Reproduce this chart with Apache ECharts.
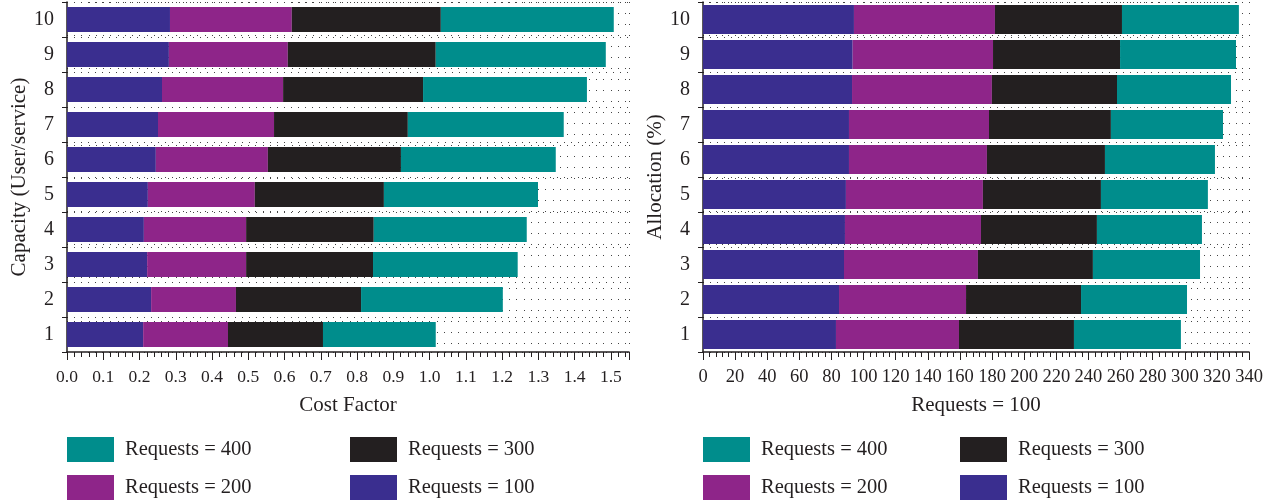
<!DOCTYPE html>
<html>
<head>
<meta charset="utf-8">
<script src="https://cdn.jsdelivr.net/npm/echarts@6/dist/echarts.min.js"></script>
<style>
html,body{margin:0;padding:0;background:#fff;}
#chart{width:1274px;height:502px;}
</style>
</head>
<body>
<div id="chart"></div>
<script>
// Categories (bottom to top)
const categories = ['1','2','3','4','5','6','7','8','9','10'];
const seriesNames = ['Requests = 100','Requests = 200','Requests = 300','Requests = 400'];

// Left chart: Cost Factor (stacked segments)
const costR100 = [0.210, 0.232, 0.221, 0.212, 0.223, 0.245, 0.251, 0.262, 0.281, 0.284];
const costR200 = [0.234, 0.234, 0.273, 0.282, 0.295, 0.309, 0.320, 0.334, 0.328, 0.336];
const costR300 = [0.262, 0.345, 0.350, 0.352, 0.356, 0.367, 0.369, 0.386, 0.408, 0.411];
const costR400 = [0.311, 0.391, 0.399, 0.422, 0.425, 0.427, 0.430, 0.452, 0.469, 0.477];

// Right chart: Allocation (stacked segments)
const allocR100 = [82.8, 84.7, 87.8, 88.4, 89.0, 90.9, 90.9, 92.8, 93.2, 94.0];
const allocR200 = [76.6, 79.1, 83.4, 84.7, 85.3, 85.9, 87.2, 87.1, 87.4, 87.8];
const allocR300 = [71.6, 71.6, 71.6, 72.2, 73.5, 73.5, 75.9, 77.9, 79.1, 79.1];
const allocR400 = [66.6, 66.0, 66.7, 65.4, 66.6, 68.5, 69.8, 71.0, 72.2, 72.8];

// Axis ranges / tick steps
const costMin = 0, costMax = 1.55, costStep = 0.1;
const allocMin = 0, allocMax = 340, allocStep = 20;

const colors = ['#3a2e8f', '#8e2589', '#231f20', '#008d8c'];
const FONT = 'Liberation Serif';
const TXT = '#231f20';
const DOT = '#444';

const chart = echarts.init(document.getElementById('chart'), null, {renderer: 'canvas'});

function xAxisCfg(gridIndex, min, max, step, name, fmt, labelSize) {
  return {
    type: 'value', gridIndex, min, max, interval: step,
    name, nameLocation: 'middle', nameGap: 43,
    nameTextStyle: {fontFamily: FONT, fontSize: 21, color: TXT},
    axisLine: {show: true, lineStyle: {color: TXT, width: 1.5}},
    axisTick: {show: true, length: 8, lineStyle: {color: TXT, width: 1}},
    minorTick: {show: true, splitNumber: 5, length: 5, lineStyle: {color: TXT, width: 1}},
    axisLabel: {fontFamily: FONT, fontSize: labelSize, color: TXT, margin: 16, formatter: fmt, showMaxLabel: max % step === 0},
    splitLine: {show: true, lineStyle: {color: DOT, width: 1, type: [1, 10]}},
    minorSplitLine: {show: true, lineStyle: {color: DOT, width: 1, type: [1, 10]}}
  };
}
function yAxisCfg(gridIndex, name) {
  return {
    type: 'category', gridIndex, data: categories,
    name, nameLocation: 'middle', nameGap: 37, nameRotate: 90,
    nameTextStyle: {fontFamily: FONT, fontSize: 21, color: TXT},
    axisLine: {show: true, lineStyle: {color: TXT, width: 1.5}},
    axisTick: {show: true, length: 5, lineStyle: {color: TXT, width: 1}},
    axisLabel: {fontFamily: FONT, fontSize: 20, color: TXT, margin: 13},
    splitLine: {show: true, lineStyle: {color: DOT, width: 1, type: [1, 6]}}
  };
}

function legendCfg(name, left, top) {
  return {
    data: [name], left, top, icon: 'rect', itemWidth: 47, itemHeight: 25,
    selectedMode: false, padding: 0,
    textStyle: {fontFamily: FONT, fontSize: 20.5, color: TXT, padding: [0, 0, 0, 6]}
  };
}

const costData = [costR100, costR200, costR300, costR400];
const allocData = [allocR100, allocR200, allocR300, allocR400];
const series = [];
seriesNames.forEach((n, i) => {
  series.push({name: n, type: 'bar', stack: 'cost', xAxisIndex: 0, yAxisIndex: 0,
    data: costData[i], barWidth: 25, itemStyle: {color: colors[i]}, z: 3});
});
seriesNames.forEach((n, i) => {
  series.push({name: n, type: 'bar', stack: 'alloc', xAxisIndex: 1, yAxisIndex: 1,
    data: allocData[i], barWidth: 29, itemStyle: {color: colors[i]}, z: 3});
});

chart.setOption({
  animation: false,
  backgroundColor: '#fff',
  textStyle: {fontFamily: FONT},
  grid: [
    {left: 67, top: 2, width: 562, height: 350},
    {left: 703, top: 2, width: 546, height: 350}
  ],
  xAxis: [
    xAxisCfg(0, costMin, costMax, costStep, 'Cost Factor', v => v.toFixed(1), 17.5),
    xAxisCfg(1, allocMin, allocMax, allocStep, 'Requests = 100', v => String(Math.round(v)), 18.5)
  ],
  yAxis: [
    yAxisCfg(0, 'Capacity (User/service)'),
    yAxisCfg(1, 'Allocation (%)')
  ],
  legend: [
    legendCfg('Requests = 400', 67, 437),
    legendCfg('Requests = 300', 350, 437),
    legendCfg('Requests = 200', 67, 475),
    legendCfg('Requests = 100', 350, 475),
    legendCfg('Requests = 400', 703, 437),
    legendCfg('Requests = 300', 960, 437),
    legendCfg('Requests = 200', 703, 475),
    legendCfg('Requests = 100', 960, 475)
  ],
  series
});
</script>
</body>
</html>
